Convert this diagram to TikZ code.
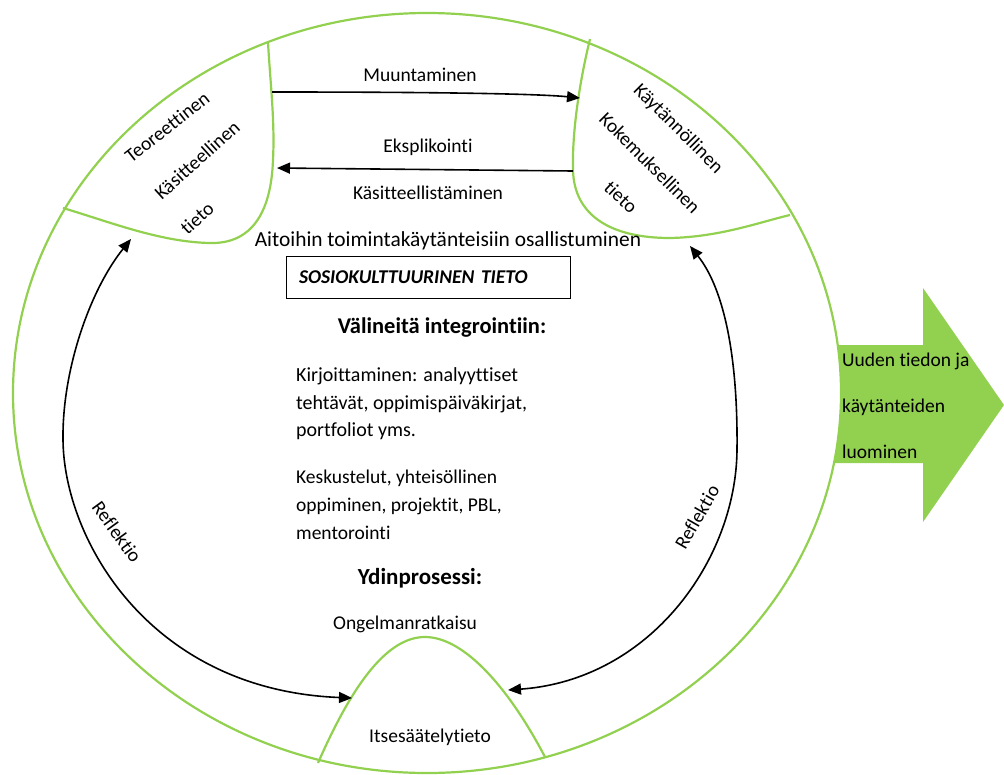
\documentclass[tikz,border=0pt]{standalone}
\usepackage{fontspec}
\setmainfont{Carlito}[Ligatures=CommonOff]
\usetikzlibrary{arrows.meta}
\definecolor{lgreen}{HTML}{92D050}
\begin{document}
\begin{tikzpicture}[x=1pt,y=-1pt,
  txt/.style={font=\fontsize{19.5}{23}\selectfont, inner sep=0pt},
  head/.style={font=\fontsize{23}{28}\selectfont\bfseries, inner sep=0pt},
  gline/.style={draw=lgreen, line width=2.2pt},
  conn/.style={draw=black, line width=1.6pt, -{Triangle[length=13pt,width=11pt]}},
  bconn/.style={draw=black, line width=1.6pt, {Triangle[length=13pt,width=11pt]}-{Triangle[length=13pt,width=11pt]}},
  frame/.style={draw=black, line width=0.8pt, minimum width=284pt, minimum height=42pt, inner xsep=13pt, text width=258pt, align=left, font=\fontsize{19.5}{23}\selectfont\bfseries\itshape}]
\useasboundingbox (0,0) rectangle (1004,774);
% outer circle
\draw[gline] (427,393) ellipse [x radius=414pt, y radius=380pt];
% left drop
\draw[gline] (268,42) .. controls (270,80) and (275,120) .. (273,160) .. controls (271,215) and (250,244) .. (210,243) .. controls (160,242) and (110,222) .. (63,208);
% right drop
\draw[gline] (590,39) .. controls (580,80) and (572,130) .. (573,170) .. controls (574,215) and (610,238) .. (670,238) .. controls (720,237) and (760,222) .. (790,215);
% bottom hump
\draw[gline] (318,763) .. controls (350,690) and (385,637) .. (425,637) .. controls (465,637) and (510,690) .. (545,757);
% big arrow
\path[fill=lgreen] (834,463) .. controls (842,430) and (842,370) .. (838,345) -- (923,345) -- (923,288) -- (1004,405) -- (923,522) -- (923,463) -- cycle;
\node[txt, align=left, anchor=west, font=\fontsize{19.5}{46}\selectfont] (new) at (842,406) {Uuden tiedon ja\\käytänteiden\\luominen};
% coordinates
\coordinate (m1) at (272,92);
\coordinate (m2) at (580,98);
\coordinate (e1) at (573,171);
\coordinate (e2) at (277,168);
\coordinate (rl1) at (131,239);
\coordinate (rl2) at (63,440);
\coordinate (rl3) at (352,698);
\coordinate (rr1) at (690,246);
\coordinate (rr2) at (737,450);
\coordinate (rr3) at (508,690);
% connectors
\draw[conn] (m1) .. controls (450,92) and (540,94) .. (m2);
\draw[conn] (e1) -- (e2);
\draw[bconn] (rl1) .. controls (90,290) and (62,370) .. (rl2) .. controls (64,540) and (150,690) .. (rl3);
\draw[bconn] (rr1) .. controls (725,290) and (738,360) .. (rr2) .. controls (736,560) and (650,680) .. (rr3);
% labels
\node[txt] (lmu) at (420,75) {Muuntaminen};
\node[txt] (lek) at (428,147) {Eksplikointi};
\node[txt] (lka) at (428,193) {Käsitteellistäminen};
\node[txt, font=\fontsize{21.4}{25}\selectfont] (lai) at (448,241) {Aitoihin toimintakäytänteisiin osallistuminen};
\node[frame] (box) at (428,277) {SOSIOKULTTUURINEN TIETO};
\node[head, font=\fontsize{22.5}{27}\selectfont\bfseries] (lva) at (442,328) {Välineitä integrointiin:};
\node[txt, align=left, anchor=west, font=\fontsize{20}{27.5}\selectfont] (lki) at (296,404) {Kirjoittaminen: analyyttiset\\tehtävät, oppimispäiväkirjat,\\portfoliot yms.};
\node[txt, align=left, anchor=west, font=\fontsize{19.5}{28}\selectfont] (lke) at (296,505) {Keskustelut, yhteisöllinen\\oppiminen, projektit, PBL,\\mentorointi};
\node[head] (lyd) at (420,578) {Ydinprosessi:};
\node[txt] (lon) at (405,624) {Ongelmanratkaisu};
\node[txt] (lit) at (430,737) {Itsesäätelytieto};
% rotated texts
\node[txt, rotate=38] (t1) at (167,127) {Teoreettinen};
\node[txt, rotate=42] (t2) at (197,160) {Käsitteellinen};
\node[txt, rotate=42] (t3) at (197,218) {tieto};
\node[txt, rotate=-45] (k1) at (678,129) {Käytännöllinen};
\node[txt, rotate=-45] (k2) at (650,163) {Kokemuksellinen};
\node[txt, rotate=-43] (k3) at (621,197) {tieto};
\node[txt, rotate=-54] (r1) at (117,532) {Reflektio};
\node[txt, rotate=60] (r2) at (697,517) {Reflektio};
\end{tikzpicture}
\end{document}
